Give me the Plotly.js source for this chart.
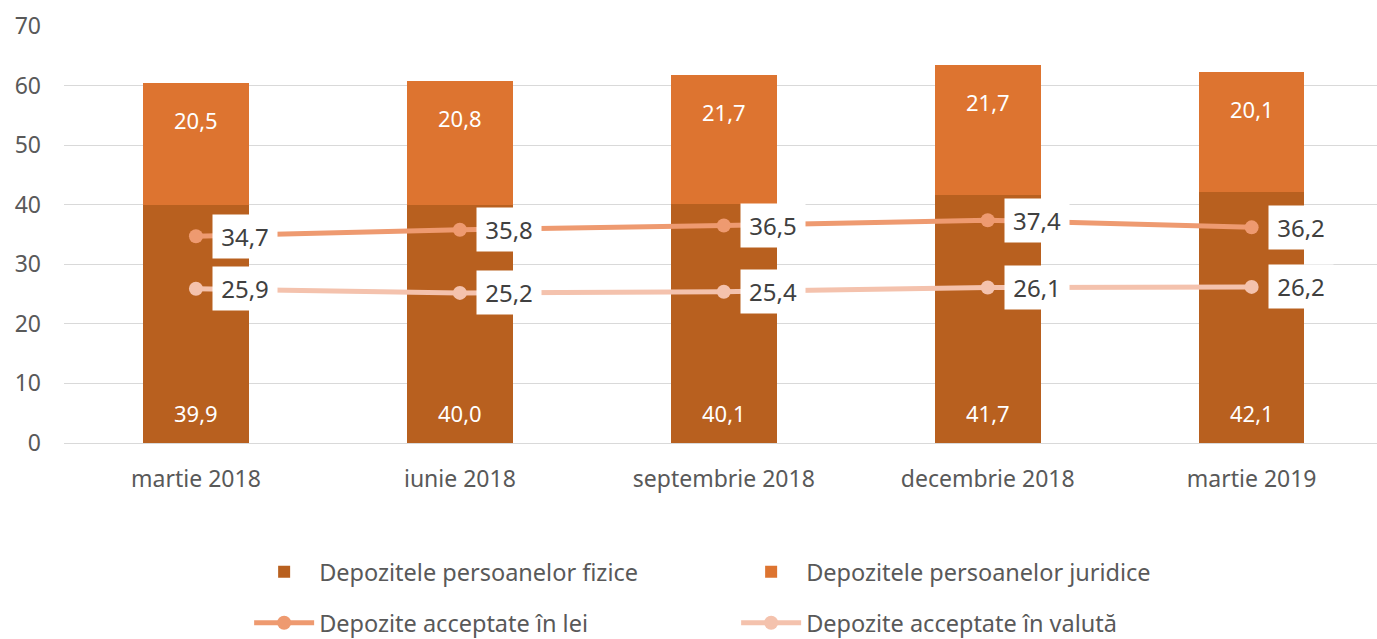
<!DOCTYPE html>
<html>
<head>
<meta charset="utf-8">
<script src="https://cdn.plot.ly/plotly-3.0.1.min.js"></script>
<style>html,body{margin:0;padding:0;background:#fff;}#chart{width:1377px;height:639px;}</style>
</head>
<body>
<div id="chart"></div>
<script>
const categories = ["martie 2018", "iunie 2018", "septembrie 2018", "decembrie 2018", "martie 2019"];
const fizice = [39.9, 40.0, 40.1, 41.7, 42.1];
const juridice = [20.5, 20.8, 21.7, 21.7, 20.1];
const lei = [34.7, 35.8, 36.5, 37.4, 36.2];
const valuta = [25.9, 25.2, 25.4, 26.1, 26.2];
const seriesNames = ["Depozitele persoanelor fizice", "Depozitele persoanelor juridice", "Depozite acceptate în lei", "Depozite acceptate în valută"];

const FONT = "Noto Sans, Open Sans, sans-serif";
const fmt = v => v.toFixed(1).replace(".", ",");
const cDark = "#B8601F", cLight = "#DD7430", cLei = "#EE9A70", cVal = "#F4C2AD";

const traces = [
  {type: "bar", x: categories, y: fizice, name: seriesNames[0], marker: {color: cDark}, width: 0.4, legend: "legend", hoverinfo: "skip"},
  {type: "bar", x: categories, y: juridice, name: seriesNames[1], marker: {color: cLight}, width: 0.4, legend: "legend", hoverinfo: "skip"},
  {type: "scatter", mode: "lines+markers", x: categories, y: lei, name: seriesNames[2], line: {color: cLei, width: 5}, marker: {color: cLei, size: 14}, legend: "legend2", hoverinfo: "skip"},
  {type: "scatter", mode: "lines+markers", x: categories, y: valuta, name: seriesNames[3], line: {color: cVal, width: 5}, marker: {color: cVal, size: 14}, legend: "legend2", hoverinfo: "skip"}
];

const annotations = [];
categories.forEach((c, i) => {
  annotations.push({x: c, y: 0, text: fmt(fizice[i]), showarrow: false, yanchor: "middle", yshift: 30, font: {family: FONT, size: 22, color: "#FFFFFF"}});
  annotations.push({x: c, y: fizice[i] + juridice[i], text: fmt(juridice[i]), showarrow: false, yanchor: "middle", yshift: -37, font: {family: FONT, size: 22, color: "#FFFFFF"}});
  annotations.push({x: c, y: lei[i], text: fmt(lei[i]), showarrow: false, xanchor: "left", yanchor: "middle", xshift: 16, bgcolor: "#FFFFFF", borderpad: 5, width: 54, font: {family: FONT, size: 24, color: "#404040"}});
  annotations.push({x: c, y: valuta[i], text: fmt(valuta[i]), showarrow: false, xanchor: "left", yanchor: "middle", xshift: 16, bgcolor: "#FFFFFF", borderpad: 5, width: 54, font: {family: FONT, size: 24, color: "#404040"}});
});

const legendBase = {orientation: "h", xanchor: "left", yanchor: "middle", yref: "container", entrywidth: 412, entrywidthmode: "pixels", itemwidth: 60, font: {family: FONT, size: 23.5, color: "#595959"}, bgcolor: "rgba(0,0,0,0)", traceorder: "normal"};

const layout = {
  width: 1377, height: 639,
  margin: {l: 64, r: 0, t: 26, b: 196, autoexpand: false},
  paper_bgcolor: "#FFFFFF", plot_bgcolor: "#FFFFFF",
  barmode: "stack",
  font: {family: FONT, color: "#595959"},
  xaxis: {type: "category", range: [-0.5, 4.475], showgrid: false, zeroline: false, showline: false, ticks: "", tickfont: {family: FONT, size: 23, color: "#595959"}, ticklabelstandoff: 20, fixedrange: true, automargin: false},
  yaxis: {range: [0, 70], dtick: 10, showgrid: true, gridcolor: "#D9D9D9", gridwidth: 1, zeroline: true, zerolinecolor: "#D9D9D9", zerolinewidth: 1, showline: false, ticks: "", tickfont: {family: FONT, size: 23, color: "#595959"}, ticklabelstandoff: 22, fixedrange: true, automargin: false},
  showlegend: true,
  legend: Object.assign({}, legendBase, {x: 0.141, y: 1 - 572 / 639}),
  legend2: Object.assign({}, legendBase, {x: 0.141, y: 1 - 623 / 639}),
  annotations: annotations
};

Plotly.newPlot("chart", traces, layout, {displayModeBar: false, staticPlot: true});
</script>
</body>
</html>
